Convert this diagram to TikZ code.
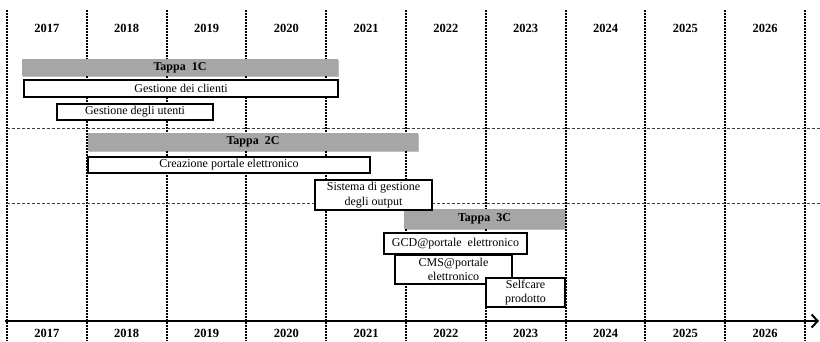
\documentclass[tikz,border=0pt]{standalone}
\usepackage{fontspec}
\setmainfont{Liberation Serif}
\usetikzlibrary{arrows.meta,shadows}
\begin{document}
\begin{tikzpicture}[x=1pt,y=-1pt,
  yearline/.style={line width=2pt, dash pattern=on 1.8pt off 1.2pt, black},
  band/.style={line width=0.6pt, dash pattern=on 3pt off 2pt, black!75},
  axisline/.style={line width=2.4pt, -{Straight Barb[length=6pt,width=13pt,line width=2pt]}},
  softshadow/.style={drop shadow={shadow xshift=1.2pt, shadow yshift=-1.2pt, opacity=0.25, fill=black}},
  phase/.style={fill=black!35, draw=none, inner sep=0pt, softshadow,
    font=\fontsize{12}{12}\selectfont\bfseries},
  task/.style={fill=white, draw=black, line width=1.4pt, inner sep=0pt, align=center,
    softshadow, font=\fontsize{12}{14.5}\selectfont},
  year/.style={font=\fontsize{12.5}{13}\selectfont\bfseries}]
\useasboundingbox (0,0) rectangle (820,341);

% year separators
\foreach \i in {0,...,10}
  \draw[yearline] ({7+79.8*\i},10) -- ({7+79.8*\i},341);

% year labels, top and bottom
\foreach \yr [count=\i from 0] in {2017,2018,2019,2020,2021,2022,2023,2024,2025,2026} {
  \node[year] (top\yr) at ({46.9+79.8*\i},28) {\yr};
  \node[year] (bot\yr) at ({46.9+79.8*\i},333.5) {\yr};
}

% phase separators
\draw[band] (7,128) -- (820,128);
\draw[band] (7,203) -- (820,203);

% time axis
\coordinate (axs) at (5,321);
\coordinate (axe) at (819,321);
\draw[axisline] (axs) -- (axe);

% phase 1C
\node[phase, minimum width=316pt, minimum height=17pt] (p1) at (180,67.5) {Tappa~ 1C};
\node[task, minimum width=314pt, minimum height=17pt] (clienti) at (181,88.5) {Gestione dei clienti};
\node[task, minimum width=156pt, minimum height=16pt] (utenti) at (135,112) {Gestione degli utenti};

% phase 2C
\node[phase, minimum width=330pt, minimum height=18pt] (p2) at (253,142) {Tappa~ 2C};
\node[task, minimum width=282pt, minimum height=16pt] (portale) at (229,165) {Creazione portale elettronico};

% phase 3C
\node[phase, minimum width=161pt, minimum height=20pt] (p3) at (484.5,219) {Tappa~ 3C};
\node[task, minimum width=117pt, minimum height=30pt] (output) at (373.5,195) {Sistema di gestione\\degli output};
\node[task, minimum width=143pt, minimum height=21pt] (gcd) at (455.5,243.5) {GCD@portale\ \ elettronico};
\node[task, minimum width=117pt, minimum height=29pt] (cms) at (453.5,269.5) {CMS@portale\\elettronico};
\node[task, minimum width=79pt, minimum height=29pt] (self) at (525.5,292.5) {Selfcare\\prodotto};
\end{tikzpicture}
\end{document}
